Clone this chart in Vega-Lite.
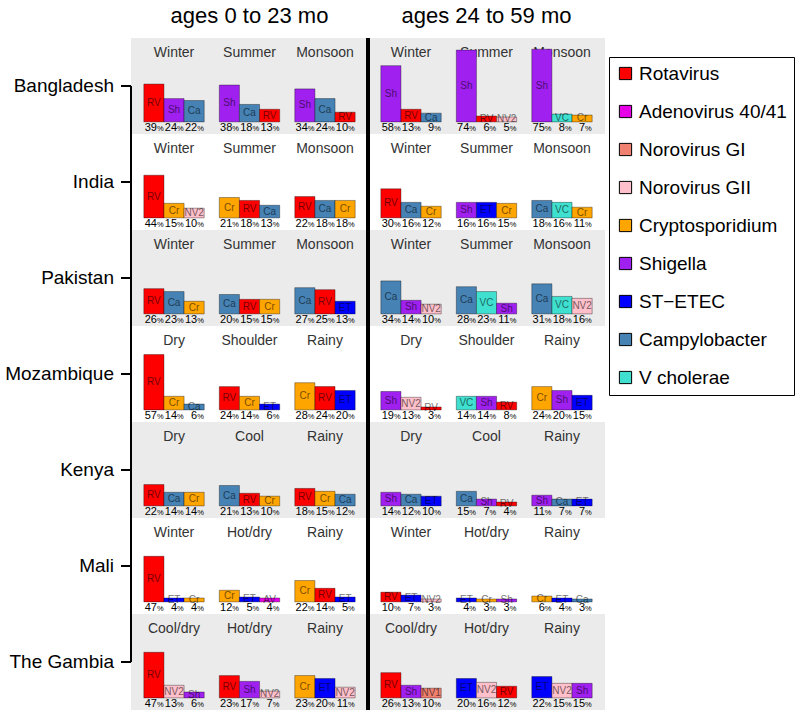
{
  "$schema": "https://vega.github.io/schema/vega-lite/v6.json",
  "padding": {"left": 5, "top": 5, "right": 1, "bottom": 1},
  "background": "white",
  "bounds": "flush",
  "config": {"font": "Liberation Sans", "view": {"stroke": null}, "facet": {"spacing": 0}},
  "spacing": 0,
  "data": {"values": [
    {"c":"Bangladesh","a":"ages 0 to 23 mo","s":1,"sn":"Winter","r":1,"ab":"RV","v":39},
    {"c":"Bangladesh","a":"ages 0 to 23 mo","s":1,"sn":"Winter","r":2,"ab":"Sh","v":24},
    {"c":"Bangladesh","a":"ages 0 to 23 mo","s":1,"sn":"Winter","r":3,"ab":"Ca","v":22},
    {"c":"Bangladesh","a":"ages 0 to 23 mo","s":2,"sn":"Summer","r":1,"ab":"Sh","v":38},
    {"c":"Bangladesh","a":"ages 0 to 23 mo","s":2,"sn":"Summer","r":2,"ab":"Ca","v":18},
    {"c":"Bangladesh","a":"ages 0 to 23 mo","s":2,"sn":"Summer","r":3,"ab":"RV","v":13},
    {"c":"Bangladesh","a":"ages 0 to 23 mo","s":3,"sn":"Monsoon","r":1,"ab":"Sh","v":34},
    {"c":"Bangladesh","a":"ages 0 to 23 mo","s":3,"sn":"Monsoon","r":2,"ab":"Ca","v":24},
    {"c":"Bangladesh","a":"ages 0 to 23 mo","s":3,"sn":"Monsoon","r":3,"ab":"RV","v":10},
    {"c":"Bangladesh","a":"ages 24 to 59 mo","s":1,"sn":"Winter","r":1,"ab":"Sh","v":58},
    {"c":"Bangladesh","a":"ages 24 to 59 mo","s":1,"sn":"Winter","r":2,"ab":"RV","v":13},
    {"c":"Bangladesh","a":"ages 24 to 59 mo","s":1,"sn":"Winter","r":3,"ab":"Ca","v":9},
    {"c":"Bangladesh","a":"ages 24 to 59 mo","s":2,"sn":"Summer","r":1,"ab":"Sh","v":74},
    {"c":"Bangladesh","a":"ages 24 to 59 mo","s":2,"sn":"Summer","r":2,"ab":"RV","v":6},
    {"c":"Bangladesh","a":"ages 24 to 59 mo","s":2,"sn":"Summer","r":3,"ab":"NV2","v":5},
    {"c":"Bangladesh","a":"ages 24 to 59 mo","s":3,"sn":"Monsoon","r":1,"ab":"Sh","v":75},
    {"c":"Bangladesh","a":"ages 24 to 59 mo","s":3,"sn":"Monsoon","r":2,"ab":"VC","v":8},
    {"c":"Bangladesh","a":"ages 24 to 59 mo","s":3,"sn":"Monsoon","r":3,"ab":"Cr","v":7},
    {"c":"India","a":"ages 0 to 23 mo","s":1,"sn":"Winter","r":1,"ab":"RV","v":44},
    {"c":"India","a":"ages 0 to 23 mo","s":1,"sn":"Winter","r":2,"ab":"Cr","v":15},
    {"c":"India","a":"ages 0 to 23 mo","s":1,"sn":"Winter","r":3,"ab":"NV2","v":10},
    {"c":"India","a":"ages 0 to 23 mo","s":2,"sn":"Summer","r":1,"ab":"Cr","v":21},
    {"c":"India","a":"ages 0 to 23 mo","s":2,"sn":"Summer","r":2,"ab":"RV","v":18},
    {"c":"India","a":"ages 0 to 23 mo","s":2,"sn":"Summer","r":3,"ab":"Ca","v":13},
    {"c":"India","a":"ages 0 to 23 mo","s":3,"sn":"Monsoon","r":1,"ab":"RV","v":22},
    {"c":"India","a":"ages 0 to 23 mo","s":3,"sn":"Monsoon","r":2,"ab":"Ca","v":18},
    {"c":"India","a":"ages 0 to 23 mo","s":3,"sn":"Monsoon","r":3,"ab":"Cr","v":18},
    {"c":"India","a":"ages 24 to 59 mo","s":1,"sn":"Winter","r":1,"ab":"RV","v":30},
    {"c":"India","a":"ages 24 to 59 mo","s":1,"sn":"Winter","r":2,"ab":"Ca","v":16},
    {"c":"India","a":"ages 24 to 59 mo","s":1,"sn":"Winter","r":3,"ab":"Cr","v":12},
    {"c":"India","a":"ages 24 to 59 mo","s":2,"sn":"Summer","r":1,"ab":"Sh","v":16},
    {"c":"India","a":"ages 24 to 59 mo","s":2,"sn":"Summer","r":2,"ab":"ET","v":16},
    {"c":"India","a":"ages 24 to 59 mo","s":2,"sn":"Summer","r":3,"ab":"Cr","v":15},
    {"c":"India","a":"ages 24 to 59 mo","s":3,"sn":"Monsoon","r":1,"ab":"Ca","v":18},
    {"c":"India","a":"ages 24 to 59 mo","s":3,"sn":"Monsoon","r":2,"ab":"VC","v":16},
    {"c":"India","a":"ages 24 to 59 mo","s":3,"sn":"Monsoon","r":3,"ab":"Cr","v":11},
    {"c":"Pakistan","a":"ages 0 to 23 mo","s":1,"sn":"Winter","r":1,"ab":"RV","v":26},
    {"c":"Pakistan","a":"ages 0 to 23 mo","s":1,"sn":"Winter","r":2,"ab":"Ca","v":23},
    {"c":"Pakistan","a":"ages 0 to 23 mo","s":1,"sn":"Winter","r":3,"ab":"Cr","v":13},
    {"c":"Pakistan","a":"ages 0 to 23 mo","s":2,"sn":"Summer","r":1,"ab":"Ca","v":20},
    {"c":"Pakistan","a":"ages 0 to 23 mo","s":2,"sn":"Summer","r":2,"ab":"RV","v":15},
    {"c":"Pakistan","a":"ages 0 to 23 mo","s":2,"sn":"Summer","r":3,"ab":"Cr","v":15},
    {"c":"Pakistan","a":"ages 0 to 23 mo","s":3,"sn":"Monsoon","r":1,"ab":"Ca","v":27},
    {"c":"Pakistan","a":"ages 0 to 23 mo","s":3,"sn":"Monsoon","r":2,"ab":"RV","v":25},
    {"c":"Pakistan","a":"ages 0 to 23 mo","s":3,"sn":"Monsoon","r":3,"ab":"ET","v":13},
    {"c":"Pakistan","a":"ages 24 to 59 mo","s":1,"sn":"Winter","r":1,"ab":"Ca","v":34},
    {"c":"Pakistan","a":"ages 24 to 59 mo","s":1,"sn":"Winter","r":2,"ab":"Sh","v":14},
    {"c":"Pakistan","a":"ages 24 to 59 mo","s":1,"sn":"Winter","r":3,"ab":"NV2","v":10},
    {"c":"Pakistan","a":"ages 24 to 59 mo","s":2,"sn":"Summer","r":1,"ab":"Ca","v":28},
    {"c":"Pakistan","a":"ages 24 to 59 mo","s":2,"sn":"Summer","r":2,"ab":"VC","v":23},
    {"c":"Pakistan","a":"ages 24 to 59 mo","s":2,"sn":"Summer","r":3,"ab":"Sh","v":11},
    {"c":"Pakistan","a":"ages 24 to 59 mo","s":3,"sn":"Monsoon","r":1,"ab":"Ca","v":31},
    {"c":"Pakistan","a":"ages 24 to 59 mo","s":3,"sn":"Monsoon","r":2,"ab":"VC","v":18},
    {"c":"Pakistan","a":"ages 24 to 59 mo","s":3,"sn":"Monsoon","r":3,"ab":"NV2","v":16},
    {"c":"Mozambique","a":"ages 0 to 23 mo","s":1,"sn":"Dry","r":1,"ab":"RV","v":57},
    {"c":"Mozambique","a":"ages 0 to 23 mo","s":1,"sn":"Dry","r":2,"ab":"Cr","v":14},
    {"c":"Mozambique","a":"ages 0 to 23 mo","s":1,"sn":"Dry","r":3,"ab":"Ca","v":6},
    {"c":"Mozambique","a":"ages 0 to 23 mo","s":2,"sn":"Shoulder","r":1,"ab":"RV","v":24},
    {"c":"Mozambique","a":"ages 0 to 23 mo","s":2,"sn":"Shoulder","r":2,"ab":"Cr","v":14},
    {"c":"Mozambique","a":"ages 0 to 23 mo","s":2,"sn":"Shoulder","r":3,"ab":"ET","v":6},
    {"c":"Mozambique","a":"ages 0 to 23 mo","s":3,"sn":"Rainy","r":1,"ab":"Cr","v":28},
    {"c":"Mozambique","a":"ages 0 to 23 mo","s":3,"sn":"Rainy","r":2,"ab":"RV","v":24},
    {"c":"Mozambique","a":"ages 0 to 23 mo","s":3,"sn":"Rainy","r":3,"ab":"ET","v":20},
    {"c":"Mozambique","a":"ages 24 to 59 mo","s":1,"sn":"Dry","r":1,"ab":"Sh","v":19},
    {"c":"Mozambique","a":"ages 24 to 59 mo","s":1,"sn":"Dry","r":2,"ab":"NV2","v":13},
    {"c":"Mozambique","a":"ages 24 to 59 mo","s":1,"sn":"Dry","r":3,"ab":"RV","v":3},
    {"c":"Mozambique","a":"ages 24 to 59 mo","s":2,"sn":"Shoulder","r":1,"ab":"VC","v":14},
    {"c":"Mozambique","a":"ages 24 to 59 mo","s":2,"sn":"Shoulder","r":2,"ab":"Sh","v":14},
    {"c":"Mozambique","a":"ages 24 to 59 mo","s":2,"sn":"Shoulder","r":3,"ab":"RV","v":8},
    {"c":"Mozambique","a":"ages 24 to 59 mo","s":3,"sn":"Rainy","r":1,"ab":"Cr","v":24},
    {"c":"Mozambique","a":"ages 24 to 59 mo","s":3,"sn":"Rainy","r":2,"ab":"Sh","v":20},
    {"c":"Mozambique","a":"ages 24 to 59 mo","s":3,"sn":"Rainy","r":3,"ab":"ET","v":15},
    {"c":"Kenya","a":"ages 0 to 23 mo","s":1,"sn":"Dry","r":1,"ab":"RV","v":22},
    {"c":"Kenya","a":"ages 0 to 23 mo","s":1,"sn":"Dry","r":2,"ab":"Ca","v":14},
    {"c":"Kenya","a":"ages 0 to 23 mo","s":1,"sn":"Dry","r":3,"ab":"Cr","v":14},
    {"c":"Kenya","a":"ages 0 to 23 mo","s":2,"sn":"Cool","r":1,"ab":"Ca","v":21},
    {"c":"Kenya","a":"ages 0 to 23 mo","s":2,"sn":"Cool","r":2,"ab":"RV","v":13},
    {"c":"Kenya","a":"ages 0 to 23 mo","s":2,"sn":"Cool","r":3,"ab":"Cr","v":10},
    {"c":"Kenya","a":"ages 0 to 23 mo","s":3,"sn":"Rainy","r":1,"ab":"RV","v":18},
    {"c":"Kenya","a":"ages 0 to 23 mo","s":3,"sn":"Rainy","r":2,"ab":"Cr","v":15},
    {"c":"Kenya","a":"ages 0 to 23 mo","s":3,"sn":"Rainy","r":3,"ab":"Ca","v":12},
    {"c":"Kenya","a":"ages 24 to 59 mo","s":1,"sn":"Dry","r":1,"ab":"Sh","v":14},
    {"c":"Kenya","a":"ages 24 to 59 mo","s":1,"sn":"Dry","r":2,"ab":"Ca","v":12},
    {"c":"Kenya","a":"ages 24 to 59 mo","s":1,"sn":"Dry","r":3,"ab":"ET","v":10},
    {"c":"Kenya","a":"ages 24 to 59 mo","s":2,"sn":"Cool","r":1,"ab":"Ca","v":15},
    {"c":"Kenya","a":"ages 24 to 59 mo","s":2,"sn":"Cool","r":2,"ab":"Sh","v":7},
    {"c":"Kenya","a":"ages 24 to 59 mo","s":2,"sn":"Cool","r":3,"ab":"RV","v":4},
    {"c":"Kenya","a":"ages 24 to 59 mo","s":3,"sn":"Rainy","r":1,"ab":"Sh","v":11},
    {"c":"Kenya","a":"ages 24 to 59 mo","s":3,"sn":"Rainy","r":2,"ab":"Ca","v":7},
    {"c":"Kenya","a":"ages 24 to 59 mo","s":3,"sn":"Rainy","r":3,"ab":"ET","v":7},
    {"c":"Mali","a":"ages 0 to 23 mo","s":1,"sn":"Winter","r":1,"ab":"RV","v":47},
    {"c":"Mali","a":"ages 0 to 23 mo","s":1,"sn":"Winter","r":2,"ab":"ET","v":4},
    {"c":"Mali","a":"ages 0 to 23 mo","s":1,"sn":"Winter","r":3,"ab":"Cr","v":4},
    {"c":"Mali","a":"ages 0 to 23 mo","s":2,"sn":"Hot/dry","r":1,"ab":"Cr","v":12},
    {"c":"Mali","a":"ages 0 to 23 mo","s":2,"sn":"Hot/dry","r":2,"ab":"ET","v":5},
    {"c":"Mali","a":"ages 0 to 23 mo","s":2,"sn":"Hot/dry","r":3,"ab":"AV","v":4},
    {"c":"Mali","a":"ages 0 to 23 mo","s":3,"sn":"Rainy","r":1,"ab":"Cr","v":22},
    {"c":"Mali","a":"ages 0 to 23 mo","s":3,"sn":"Rainy","r":2,"ab":"RV","v":14},
    {"c":"Mali","a":"ages 0 to 23 mo","s":3,"sn":"Rainy","r":3,"ab":"ET","v":5},
    {"c":"Mali","a":"ages 24 to 59 mo","s":1,"sn":"Winter","r":1,"ab":"RV","v":10},
    {"c":"Mali","a":"ages 24 to 59 mo","s":1,"sn":"Winter","r":2,"ab":"ET","v":7},
    {"c":"Mali","a":"ages 24 to 59 mo","s":1,"sn":"Winter","r":3,"ab":"NV2","v":3},
    {"c":"Mali","a":"ages 24 to 59 mo","s":2,"sn":"Hot/dry","r":1,"ab":"ET","v":4},
    {"c":"Mali","a":"ages 24 to 59 mo","s":2,"sn":"Hot/dry","r":2,"ab":"Cr","v":3},
    {"c":"Mali","a":"ages 24 to 59 mo","s":2,"sn":"Hot/dry","r":3,"ab":"Sh","v":3},
    {"c":"Mali","a":"ages 24 to 59 mo","s":3,"sn":"Rainy","r":1,"ab":"Cr","v":6},
    {"c":"Mali","a":"ages 24 to 59 mo","s":3,"sn":"Rainy","r":2,"ab":"ET","v":4},
    {"c":"Mali","a":"ages 24 to 59 mo","s":3,"sn":"Rainy","r":3,"ab":"Ca","v":3},
    {"c":"The Gambia","a":"ages 0 to 23 mo","s":1,"sn":"Cool/dry","r":1,"ab":"RV","v":47},
    {"c":"The Gambia","a":"ages 0 to 23 mo","s":1,"sn":"Cool/dry","r":2,"ab":"NV2","v":13},
    {"c":"The Gambia","a":"ages 0 to 23 mo","s":1,"sn":"Cool/dry","r":3,"ab":"Sh","v":6},
    {"c":"The Gambia","a":"ages 0 to 23 mo","s":2,"sn":"Hot/dry","r":1,"ab":"RV","v":23},
    {"c":"The Gambia","a":"ages 0 to 23 mo","s":2,"sn":"Hot/dry","r":2,"ab":"Sh","v":17},
    {"c":"The Gambia","a":"ages 0 to 23 mo","s":2,"sn":"Hot/dry","r":3,"ab":"NV2","v":7},
    {"c":"The Gambia","a":"ages 0 to 23 mo","s":3,"sn":"Rainy","r":1,"ab":"Cr","v":23},
    {"c":"The Gambia","a":"ages 0 to 23 mo","s":3,"sn":"Rainy","r":2,"ab":"ET","v":20},
    {"c":"The Gambia","a":"ages 0 to 23 mo","s":3,"sn":"Rainy","r":3,"ab":"NV2","v":11},
    {"c":"The Gambia","a":"ages 24 to 59 mo","s":1,"sn":"Cool/dry","r":1,"ab":"RV","v":26},
    {"c":"The Gambia","a":"ages 24 to 59 mo","s":1,"sn":"Cool/dry","r":2,"ab":"Sh","v":13},
    {"c":"The Gambia","a":"ages 24 to 59 mo","s":1,"sn":"Cool/dry","r":3,"ab":"NV1","v":10},
    {"c":"The Gambia","a":"ages 24 to 59 mo","s":2,"sn":"Hot/dry","r":1,"ab":"ET","v":20},
    {"c":"The Gambia","a":"ages 24 to 59 mo","s":2,"sn":"Hot/dry","r":2,"ab":"NV2","v":16},
    {"c":"The Gambia","a":"ages 24 to 59 mo","s":2,"sn":"Hot/dry","r":3,"ab":"RV","v":12},
    {"c":"The Gambia","a":"ages 24 to 59 mo","s":3,"sn":"Rainy","r":1,"ab":"ET","v":22},
    {"c":"The Gambia","a":"ages 24 to 59 mo","s":3,"sn":"Rainy","r":2,"ab":"NV2","v":15},
    {"c":"The Gambia","a":"ages 24 to 59 mo","s":3,"sn":"Rainy","r":3,"ab":"Sh","v":15}
  ]},
  "facet": {
    "row": {"field": "c", "type": "nominal", "title": null,
      "sort": ["Bangladesh","India","Pakistan","Mozambique","Kenya","Mali","The Gambia"],
      "header": {"labelAngle": 0, "labelAlign": "left", "labelOrient": "left", "labelFontSize": 19, "labelColor": "black", "labelPadding": 17, "labelFont": "Liberation Sans"}},
    "column": {"field": "a", "type": "nominal", "title": null,
      "sort": ["ages 0 to 23 mo","ages 24 to 59 mo"],
      "header": {"labelFontSize": 22, "labelColor": "black", "labelPadding": 10, "labelFont": "Liberation Sans"}}
  },
  "spec": {
    "width": 237,
    "height": 96,
    "layer": [
      {"layer": [
        {"mark": {"type": "rect"},
         "encoding": {
           "y": {"datum": -12.5, "type": "quantitative", "axis": null},
           "y2": {"datum": 86.5},
           "fill": {"condition": {"test": "datum.c === 'Bangladesh' || datum.c === 'Pakistan' || datum.c === 'Kenya' || datum.c === 'The Gambia'", "value": "#EBEBEB"}, "value": "#FFFFFF"}
         }},
        {"transform": [{"filter": {"field": "r", "equal": 1}}],
         "mark": {"type": "text", "fontSize": 14, "fill": "#333333", "baseline": "middle"},
         "encoding": {
           "x": {"field": "s", "type": "ordinal", "axis": null},
           "y": {"datum": 71, "type": "quantitative", "axis": null},
           "text": {"field": "sn"}
         }},
        {"transform": [{"filter": "datum.a === 'ages 0 to 23 mo' && datum.c !== 'Bangladesh'"}],
         "mark": {"type": "rule", "color": "black", "strokeWidth": 1},
         "encoding": {"x": {"value": 0}, "y": {"datum": 37, "type": "quantitative", "axis": null}, "y2": {"datum": 86.5}}},
        {"transform": [{"filter": "datum.a === 'ages 0 to 23 mo' && datum.c !== 'The Gambia'"}],
         "mark": {"type": "rule", "color": "black", "strokeWidth": 1},
         "encoding": {"x": {"value": 0}, "y": {"datum": -12.5, "type": "quantitative", "axis": null}, "y2": {"datum": 37}}},
        {"transform": [{"filter": "datum.a === 'ages 0 to 23 mo'"}],
         "mark": {"type": "rule", "color": "black", "strokeWidth": 1},
         "encoding": {"x": {"value": -10}, "x2": {"value": 0}, "y": {"datum": 37, "type": "quantitative", "axis": null}}},
        {"transform": [{"filter": "datum.a === 'ages 24 to 59 mo'"}],
         "mark": {"type": "rule", "color": "black", "strokeWidth": 3},
         "encoding": {"x": {"value": 0}, "y": {"datum": -12.5, "type": "quantitative", "axis": null}, "y2": {"datum": 86.5}}},
        {"mark": {"type": "bar", "stroke": "black", "strokeOpacity": 0.35, "strokeWidth": 1},
         "encoding": {
           "x": {"field": "s", "type": "ordinal", "scale": {"paddingInner": 0.2, "paddingOuter": 0.17}, "axis": null},
           "xOffset": {"field": "r", "type": "ordinal", "scale": {"paddingInner": 0, "paddingOuter": 0}},
           "y": {"field": "v", "type": "quantitative", "scale": {"domain": [-12.5, 86.5], "nice": false}, "axis": null},
           "color": {"field": "ab", "type": "nominal",
             "scale": {"domain": ["RV","AV","NV1","NV2","Cr","Sh","ET","Ca","VC"],
                       "range": ["#FF0000","#E600E6","#F08070","#FFC0CB","#FFA500","#A020F0","#0000FF","#4682B4","#40E0D0"]},
             "legend": {"title": null, "orient": "none", "legendX": 478, "legendY": 19,
               "labelExpr": "datum.label === 'RV' ? 'Rotavirus' : datum.label === 'AV' ? 'Adenovirus 40/41' : datum.label === 'NV1' ? 'Norovirus GI' : datum.label === 'NV2' ? 'Norovirus GII' : datum.label === 'Cr' ? 'Cryptosporidium' : datum.label === 'Sh' ? 'Shigella' : datum.label === 'ET' ? 'ST−ETEC' : datum.label === 'Ca' ? 'Campylobacter' : 'V cholerae'",
               "symbolType": "square", "symbolSize": 150, "symbolStrokeWidth": 1, "labelFontSize": 19, "labelColor": "black", "labelFont": "Liberation Sans",
               "rowPadding": 18, "strokeColor": "black", "padding": 7, "labelOffset": 4, "fillColor": "white"}}
         }},
        {"mark": {"type": "text", "align": "right", "dx": 3, "baseline": "alphabetic", "fontSize": 11, "fill": "black"},
         "encoding": {
           "x": {"field": "s", "type": "ordinal", "axis": null},
           "xOffset": {"field": "r", "type": "ordinal"},
           "y": {"datum": -9.8, "type": "quantitative", "axis": null},
           "text": {"field": "v", "type": "quantitative"}
         }},
        {"mark": {"type": "text", "align": "left", "dx": 3, "baseline": "alphabetic", "fontSize": 7.5, "fill": "black"},
         "encoding": {
           "x": {"field": "s", "type": "ordinal", "axis": null},
           "xOffset": {"field": "r", "type": "ordinal"},
           "y": {"datum": -9.8, "type": "quantitative", "axis": null},
           "text": {"value": "%"}
         }}
      ]},
      {"mark": {"type": "text", "baseline": "middle", "fontSize": 10, "fill": "black", "opacity": 0.55},
       "encoding": {
         "x": {"field": "s", "type": "ordinal", "axis": null},
         "xOffset": {"field": "r", "type": "ordinal"},
         "y": {"field": "v", "type": "quantitative", "scale": {"domain": [-25, 173], "nice": false}, "axis": null},
         "text": {"field": "ab"}
       }}
    ],
    "resolve": {"scale": {"y": "independent"}}
  }
}
